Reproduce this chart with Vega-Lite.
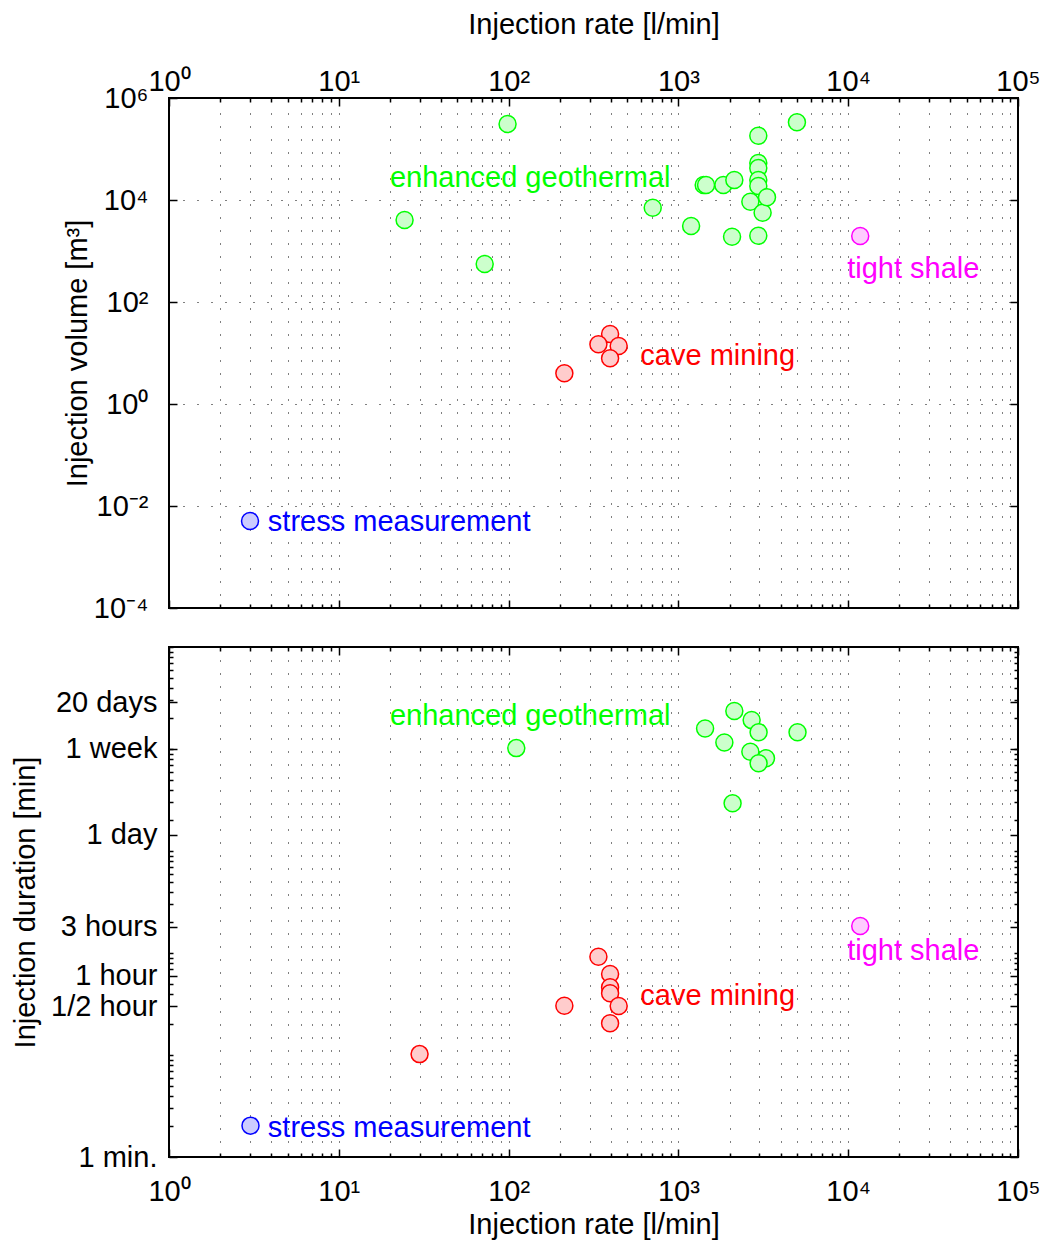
{
  "$schema": "https://vega.github.io/schema/vega-lite/v6.json",
  "background": "white",
  "padding": {"left": 10, "top": 9, "right": 5, "bottom": 5},
  "datasets": {
    "topPts": [
      {"rate": 24.4, "val": 4050, "cat": "geo"},
      {"rate": 72.3, "val": 556, "cat": "geo"},
      {"rate": 98.6, "val": 309000, "cat": "geo"},
      {"rate": 706, "val": 7060, "cat": "geo"},
      {"rate": 1188, "val": 3090, "cat": "geo"},
      {"rate": 1409, "val": 19700, "cat": "geo"},
      {"rate": 1455, "val": 19700, "cat": "geo"},
      {"rate": 1840, "val": 19700, "cat": "geo"},
      {"rate": 2135, "val": 24700, "cat": "geo"},
      {"rate": 2070, "val": 1905, "cat": "geo"},
      {"rate": 2653, "val": 9260, "cat": "geo"},
      {"rate": 2955, "val": 182000, "cat": "geo"},
      {"rate": 2955, "val": 53100, "cat": "geo"},
      {"rate": 2955, "val": 42400, "cat": "geo"},
      {"rate": 2955, "val": 24700, "cat": "geo"},
      {"rate": 2955, "val": 18800, "cat": "geo"},
      {"rate": 2955, "val": 1995, "cat": "geo"},
      {"rate": 3133, "val": 5640, "cat": "geo"},
      {"rate": 3325, "val": 11300, "cat": "geo"},
      {"rate": 4990, "val": 334000, "cat": "geo"},
      {"rate": 11770, "val": 1970, "cat": "shale"},
      {"rate": 396, "val": 23.6, "cat": "cave"},
      {"rate": 338, "val": 14.8, "cat": "cave"},
      {"rate": 445, "val": 13.7, "cat": "cave"},
      {"rate": 396, "val": 7.87, "cat": "cave"},
      {"rate": 213, "val": 4.0, "cat": "cave"},
      {"rate": 3.0, "val": 0.00508, "cat": "stress"}
    ],
    "bottomPts": [
      {"rate": 111, "val": 10200, "cat": "geo"},
      {"rate": 1436, "val": 15900, "cat": "geo"},
      {"rate": 2135, "val": 23600, "cat": "geo"},
      {"rate": 2700, "val": 19200, "cat": "geo"},
      {"rate": 1865, "val": 11600, "cat": "geo"},
      {"rate": 2967, "val": 14600, "cat": "geo"},
      {"rate": 2653, "val": 9410, "cat": "geo"},
      {"rate": 3280, "val": 8110, "cat": "geo"},
      {"rate": 2967, "val": 7240, "cat": "geo"},
      {"rate": 5030, "val": 14600, "cat": "geo"},
      {"rate": 2085, "val": 2940, "cat": "geo"},
      {"rate": 11770, "val": 184, "cat": "shale"},
      {"rate": 338, "val": 92, "cat": "cave"},
      {"rate": 396, "val": 62.2, "cat": "cave"},
      {"rate": 396, "val": 46.1, "cat": "cave"},
      {"rate": 396, "val": 40.3, "cat": "cave"},
      {"rate": 445, "val": 30.2, "cat": "cave"},
      {"rate": 213, "val": 30.4, "cat": "cave"},
      {"rate": 396, "val": 20.5, "cat": "cave"},
      {"rate": 29.9, "val": 10.2, "cat": "cave"},
      {"rate": 3.02, "val": 2.03, "cat": "stress"}
    ],
    "topLabels": [
      {"rate": 20, "val": 18000, "cat": "geo", "label": "enhanced geothermal"},
      {"rate": 9860, "val": 296, "cat": "shale", "label": "tight shale"},
      {"rate": 597, "val": 5.8, "cat": "cave", "label": "cave mining"},
      {"rate": 3.82, "val": 0.00324, "cat": "stress", "label": "stress measurement"}
    ],
    "bottomLabels": [
      {"rate": 20, "val": 17200, "cat": "geo", "label": "enhanced geothermal"},
      {"rate": 9860, "val": 85.3, "cat": "shale", "label": "tight shale"},
      {"rate": 597, "val": 30.9, "cat": "cave", "label": "cave mining"},
      {"rate": 3.82, "val": 1.57, "cat": "stress", "label": "stress measurement"}
    ]
  },
  "vconcat": [
    {
      "width": 849,
      "height": 510,
      "layer": [
        {
          "data": {"name": "topPts"},
          "mark": {"type": "point", "shape": "circle", "filled": true, "size": 289, "strokeWidth": 1.5, "opacity": 1},
          "encoding": {
            "x": {
              "field": "rate", "type": "quantitative",
              "scale": {"type": "log", "domain": [1, 100000], "nice": false},
              "axis": {
                "orient": "top",
                "title": "Injection rate [l/min]",
                "values": [1,2,3,4,5,6,7,8,9,10,20,30,40,50,60,70,80,90,100,200,300,400,500,600,700,800,900,1000,2000,3000,4000,5000,6000,7000,8000,9000,10000,20000,30000,40000,50000,60000,70000,80000,90000,100000],
                "labelExpr": "datum.value == 1 ? '10⁰' : datum.value == 10 ? '10¹' : datum.value == 100 ? '10²' : datum.value == 1000 ? '10³' : datum.value == 10000 ? '10⁴' : datum.value == 100000 ? '10⁵' : ''",
                "tickSize": {"condition": {"test": "indexof([1,10,100,1000,10000,100000], datum.value) >= 0", "value": -8}, "value": -4},
                "grid": true,
                "gridDash": [1, 12],
                "labelPadding": 10,
                "titlePadding": 24
              }
            },
            "y": {
              "field": "val", "type": "quantitative",
              "scale": {"type": "log", "domain": [0.0001, 1000000], "nice": false},
              "axis": {
                "orient": "left",
                "title": "Injection volume [m³]",
                "values": [0.0001, 0.01, 1, 100, 10000, 1000000],
                "labelExpr": "datum.value == 0.0001 ? '10⁻⁴' : datum.value == 0.01 ? '10⁻²' : datum.value == 1 ? '10⁰' : datum.value == 100 ? '10²' : datum.value == 10000 ? '10⁴' : datum.value == 1000000 ? '10⁶' : ''",
                "tickSize": -8,
                "grid": true,
                "gridDash": [1, 13],
                "labelPadding": 29,
                "titlePadding": 1
              }
            },
            "fill": {"field": "cat", "type": "nominal", "legend": null,
              "scale": {"domain": ["geo", "shale", "cave", "stress"], "range": ["#ccffcc", "#ffccff", "#ffcccc", "#ccccff"]}},
            "stroke": {"field": "cat", "type": "nominal", "legend": null,
              "scale": {"domain": ["geo", "shale", "cave", "stress"], "range": ["#00ff00", "#ff00ff", "#ff0000", "#0000ff"]}}
          }
        },
        {
          "data": {"name": "topLabels"},
          "mark": {"type": "text", "align": "left", "baseline": "alphabetic", "fontSize": 29, "font": "Liberation Sans"},
          "encoding": {
            "x": {
              "field": "rate", "type": "quantitative",
              "scale": {"type": "log", "domain": [1, 100000], "nice": false},
              "axis": {
                "orient": "bottom", "title": null, "labels": false, "grid": false,
                "values": [1,2,3,4,5,6,7,8,9,10,20,30,40,50,60,70,80,90,100,200,300,400,500,600,700,800,900,1000,2000,3000,4000,5000,6000,7000,8000,9000,10000,20000,30000,40000,50000,60000,70000,80000,90000,100000],
                "tickSize": {"condition": {"test": "indexof([1,10,100,1000,10000,100000], datum.value) >= 0", "value": -8}, "value": -4}
              }
            },
            "y": {
              "field": "val", "type": "quantitative",
              "scale": {"type": "log", "domain": [0.0001, 1000000], "nice": false},
              "axis": {
                "orient": "right", "title": null, "labels": false, "grid": false,
                "values": [0.0001, 0.01, 1, 100, 10000, 1000000],
                "tickSize": -8
              }
            },
            "text": {"field": "label"},
            "color": {"field": "cat", "type": "nominal", "legend": null,
              "scale": {"domain": ["geo", "shale", "cave", "stress"], "range": ["#00ff00", "#ff00ff", "#ff0000", "#0000ff"]}}
          }
        }
      ],
      "resolve": {"axis": {"x": "independent", "y": "independent"}}
    },
    {
      "width": 849,
      "height": 510,
      "layer": [
        {
          "data": {"name": "bottomPts"},
          "mark": {"type": "point", "shape": "circle", "filled": true, "size": 289, "strokeWidth": 1.5, "opacity": 1},
          "encoding": {
            "x": {
              "field": "rate", "type": "quantitative",
              "scale": {"type": "log", "domain": [1, 100000], "nice": false},
              "axis": {
                "orient": "bottom",
                "title": "Injection rate [l/min]",
                "values": [1,2,3,4,5,6,7,8,9,10,20,30,40,50,60,70,80,90,100,200,300,400,500,600,700,800,900,1000,2000,3000,4000,5000,6000,7000,8000,9000,10000,20000,30000,40000,50000,60000,70000,80000,90000,100000],
                "labelExpr": "datum.value == 1 ? '10⁰' : datum.value == 10 ? '10¹' : datum.value == 100 ? '10²' : datum.value == 1000 ? '10³' : datum.value == 10000 ? '10⁴' : datum.value == 100000 ? '10⁵' : ''",
                "tickSize": {"condition": {"test": "indexof([1,10,100,1000,10000,100000], datum.value) >= 0", "value": -8}, "value": -4},
                "grid": true,
                "gridDash": [1, 12],
                "labelPadding": 28,
                "titlePadding": 0
              }
            },
            "y": {
              "field": "val", "type": "quantitative",
              "scale": {"type": "log", "domain": [1, 100000], "nice": false},
              "axis": {
                "orient": "left",
                "title": "Injection duration [min]",
                "values": [1,2,3,4,5,6,7,8,9,10,20,30,40,50,60,70,80,90,100,180,200,300,400,500,600,700,800,900,1000,1440,2000,3000,4000,5000,6000,7000,8000,9000,10000,10080,20000,28800,30000,40000,50000,60000,70000,80000,90000,100000],
                "labelExpr": "datum.value == 1 ? '1 min.' : datum.value == 30 ? '1/2 hour' : datum.value == 60 ? '1 hour' : datum.value == 180 ? '3 hours' : datum.value == 1440 ? '1 day' : datum.value == 10080 ? '1 week' : datum.value == 28800 ? '20 days' : ''",
                "tickSize": {"condition": {"test": "indexof([1,30,60,180,1440,10080,28800], datum.value) >= 0", "value": -8}, "value": -4},
                "grid": false,
                "labelPadding": 20,
                "titlePadding": 10
              }
            },
            "fill": {"field": "cat", "type": "nominal", "legend": null,
              "scale": {"domain": ["geo", "shale", "cave", "stress"], "range": ["#ccffcc", "#ffccff", "#ffcccc", "#ccccff"]}},
            "stroke": {"field": "cat", "type": "nominal", "legend": null,
              "scale": {"domain": ["geo", "shale", "cave", "stress"], "range": ["#00ff00", "#ff00ff", "#ff0000", "#0000ff"]}}
          }
        },
        {
          "data": {"name": "bottomLabels"},
          "mark": {"type": "text", "align": "left", "baseline": "alphabetic", "fontSize": 29, "font": "Liberation Sans"},
          "encoding": {
            "x": {
              "field": "rate", "type": "quantitative",
              "scale": {"type": "log", "domain": [1, 100000], "nice": false},
              "axis": {
                "orient": "top", "title": null, "labels": false, "grid": false,
                "values": [1,2,3,4,5,6,7,8,9,10,20,30,40,50,60,70,80,90,100,200,300,400,500,600,700,800,900,1000,2000,3000,4000,5000,6000,7000,8000,9000,10000,20000,30000,40000,50000,60000,70000,80000,90000,100000],
                "tickSize": {"condition": {"test": "indexof([1,10,100,1000,10000,100000], datum.value) >= 0", "value": -8}, "value": -4}
              }
            },
            "y": {
              "field": "val", "type": "quantitative",
              "scale": {"type": "log", "domain": [1, 100000], "nice": false},
              "axis": {
                "orient": "right", "title": null, "labels": false, "grid": false,
                "values": [1,2,3,4,5,6,7,8,9,10,20,30,40,50,60,70,80,90,100,180,200,300,400,500,600,700,800,900,1000,1440,2000,3000,4000,5000,6000,7000,8000,9000,10000,10080,20000,28800,30000,40000,50000,60000,70000,80000,90000,100000],
                "tickSize": {"condition": {"test": "indexof([1,30,60,180,1440,10080,28800], datum.value) >= 0", "value": -8}, "value": -4}
              }
            },
            "text": {"field": "label"},
            "color": {"field": "cat", "type": "nominal", "legend": null,
              "scale": {"domain": ["geo", "shale", "cave", "stress"], "range": ["#00ff00", "#ff00ff", "#ff0000", "#0000ff"]}}
          }
        }
      ],
      "resolve": {"axis": {"x": "independent", "y": "independent"}}
    }
  ],
  "bounds": "flush",
  "spacing": 39,
  "resolve": {"scale": {"x": "independent", "y": "independent", "fill": "independent", "stroke": "independent", "color": "independent"}},
  "config": {
    "font": "Liberation Sans",
    "view": {"stroke": "#000", "strokeWidth": 2},
    "axis": {
      "labelFont": "Liberation Sans", "labelFontSize": 29, "labelColor": "#000",
      "titleFont": "Liberation Sans", "titleFontSize": 29, "titleFontWeight": "normal", "titleColor": "#000",
      "domain": false, "tickColor": "#000", "tickWidth": 1.5,
      "labelOverlap": false, "labelFlush": false,
      "gridColor": "#000", "gridWidth": 1, "gridOpacity": 1
    }
  }
}
